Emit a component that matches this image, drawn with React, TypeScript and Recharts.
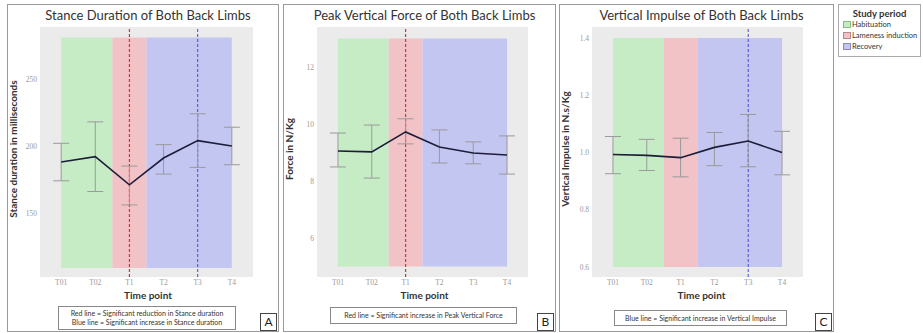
import React from 'react';
import {
  CartesianGrid,
  ErrorBar,
  Line,
  LineChart,
  ReferenceArea,
  ReferenceLine,
  XAxis,
  YAxis,
} from 'recharts';

const timePoints = ['T01', 'T02', 'T1', 'T2', 'T3', 'T4'];

const stanceMean = [188, 192, 171, 191, 204, 200];
const stanceLow = [174, 166, 156, 179, 184, 186];
const stanceHigh = [202, 218, 185, 201, 224, 214];
const stanceTicks = [150, 200, 250];

const forceMean = [9.05, 9.02, 9.72, 9.19, 8.98, 8.91];
const forceLow = [8.49, 8.1, 9.3, 8.63, 8.6, 8.24];
const forceHigh = [9.68, 9.96, 10.18, 9.79, 9.37, 9.58];
const forceTicks = [6, 8, 10, 12];

const impulseMean = [0.993, 0.99, 0.982, 1.018, 1.04, 1.0];
const impulseLow = [0.926, 0.937, 0.915, 0.954, 0.95, 0.922];
const impulseHigh = [1.056, 1.046, 1.05, 1.07, 1.133, 1.074];
const impulseTicks = [0.6, 0.8, 1.0, 1.2, 1.4];

// study periods on the time index scale
const periods = [
  { name: 'Habituation', from: 0, to: 1.5, fill: '#c6ecc6', edge: '#7fbf7f' },
  { name: 'Lameness induction', from: 1.5, to: 2.5, fill: '#f1c3c6', edge: '#b58a8d' },
  { name: 'Recovery', from: 2.5, to: 5, fill: '#c3c6f1', edge: '#8a8dc0' },
];

const RED = '#f02828';
const BLUE = '#4a4ad6';
const FONT = 'Lato, "Open Sans", sans-serif';

const rows = (mean: number[], low: number[], high: number[]) =>
  mean.map((m, i) => ({ x: i, mean: m, err: [m - low[i], high[i] - m] }));

type PanelProps = {
  left: number;
  width: number;
  letter: string;
  title: string;
  yLabel: string;
  note: string[];
  noteBox: { x: number; y: number; w: number; h: number };
  data: { x: number; mean: number; err: number[] }[];
  yDomain: [number, number];
  band: [number, number];
  ticks: number[];
  fmt: (v: number) => string;
  redAt?: number;
  blueAt?: number;
  margin: { left: number; right: number };
};

function Panel(p: PanelProps) {
  const chartW = p.width - 2;
  return (
    <div
      style={{
        position: 'absolute',
        left: p.left,
        top: 4,
        width: p.width - 2,
        height: 326,
        border: '1px solid #9a9a9a',
        fontFamily: FONT,
        color: '#333',
      }}
    >
      <div
        style={{
          position: 'absolute',
          left: 0,
          width: chartW,
          top: 2,
          textAlign: 'center',
          fontSize: 13,
          paddingLeft: 10,
          boxSizing: 'border-box',
        }}
      >
        {p.title}
      </div>
      <div
        style={{
          position: 'absolute',
          left: 5 - 80,
          top: 145 - 7,
          width: 160,
          textAlign: 'center',
          fontSize: 10,
          fontWeight: 700,
          transform: 'rotate(-90deg)',
        }}
      >
        {p.yLabel}
      </div>
      <LineChart
        width={chartW}
        height={326}
        data={p.data}
        margin={{ top: 22, bottom: 40, left: p.margin.left, right: p.margin.right }}
      >
        <CartesianGrid fill="#ebebeb" horizontal={false} vertical={false} />
        {periods.map((b) => (
          <ReferenceArea
            key={b.name}
            x1={b.from}
            x2={b.to}
            y1={p.band[0]}
            y2={p.band[1]}
            fill={b.fill}
            fillOpacity={1}
            stroke="none"
          />
        ))}
        <XAxis
          type="number"
          dataKey="x"
          domain={[-0.62, 5.62]}
          ticks={[0, 1, 2, 3, 4, 5]}
          tickFormatter={(i: number) => timePoints[i]}
          allowDataOverflow
          axisLine={false}
          tickLine={false}
          height={14}
          tickSize={2}
          tickMargin={1}
          tick={{ fill: '#999', fontSize: 7.5, fontFamily: 'Liberation Serif' }}
        />
        <YAxis
          type="number"
          domain={p.yDomain}
          ticks={p.ticks}
          tickFormatter={p.fmt}
          allowDataOverflow
          axisLine={false}
          tickLine={false}
          width={22}
          tickSize={2}
          tickMargin={1}
          tick={{ fill: '#999', fontSize: 7.5, fontFamily: 'Liberation Serif' }}
        />
        {p.redAt !== undefined && (
          <ReferenceLine x={p.redAt} stroke={RED} strokeWidth={1.2} strokeDasharray="3 2" />
        )}
        {p.blueAt !== undefined && (
          <ReferenceLine x={p.blueAt} stroke={BLUE} strokeWidth={1} strokeDasharray="3 2" />
        )}
        <Line
          dataKey="mean"
          stroke="#1d1d3a"
          strokeWidth={1.6}
          dot={false}
          isAnimationActive={false}
        >
          <ErrorBar dataKey="err" direction="y" width={8} stroke="#9a9a9a" strokeWidth={1} />
        </Line>
      </LineChart>
      <div
        style={{
          position: 'absolute',
          left: 0,
          width: chartW,
          top: 284,
          textAlign: 'center',
          fontSize: 10,
          fontWeight: 700,
          paddingLeft: 10,
          boxSizing: 'border-box',
        }}
      >
        Time point
      </div>
      <div
        style={{
          position: 'absolute',
          left: p.noteBox.x - p.left - 1,
          top: p.noteBox.y - 5,
          width: p.noteBox.w,
          height: p.noteBox.h,
          border: '1px solid #888',
          boxSizing: 'border-box',
          display: 'flex',
          flexDirection: 'column',
          justifyContent: 'center',
          alignItems: 'center',
          fontSize: 7,
          lineHeight: '9px',
        }}
      >
        {p.note.map((t) => (
          <div key={t}>{t}</div>
        ))}
      </div>
      <div
        style={{
          position: 'absolute',
          right: 1,
          bottom: 0,
          width: 17,
          height: 18,
          border: '1px solid #444',
          boxSizing: 'border-box',
          textAlign: 'center',
          fontSize: 12,
          lineHeight: '16px',
          color: '#222',
        }}
      >
        {p.letter}
      </div>
    </div>
  );
}

export default function App() {
  return (
    <div
      style={{
        position: 'absolute',
        left: 0,
        top: 0,
        width: 923,
        height: 333,
        background: '#fff',
        overflow: 'hidden',
      }}
    >
      <Panel
        left={7}
        width={272}
        letter="A"
        title="Stance Duration of Both Back Limbs"
        yLabel="Stance duration in milliseconds"
        note={[
          'Red line = Significant reduction in Stance duration',
          'Blue line = Significant increase in Stance duration',
        ]}
        noteBox={{ x: 58, y: 306, w: 178, h: 24 }}
        data={rows(stanceMean, stanceLow, stanceHigh)}
        yDomain={[102.2, 288.8]}
        band={[109, 281]}
        ticks={stanceTicks}
        fmt={(v) => String(v)}
        redAt={2}
        blueAt={4}
        margin={{ left: 10, right: 25 }}
      />
      <Panel
        left={283}
        width={273}
        letter="B"
        title="Peak Vertical Force of Both Back Limbs"
        yLabel="Force in N/Kg"
        note={['Red line = Significant increase in Peak Vertical Force']}
        noteBox={{ x: 330, y: 307, w: 187, h: 17 }}
        data={rows(forceMean, forceLow, forceHigh)}
        yDomain={[4.63, 13.4]}
        band={[5, 13]}
        ticks={forceTicks}
        fmt={(v) => String(v)}
        redAt={2}
        margin={{ left: 11, right: 27 }}
      />
      <Panel
        left={559}
        width={275}
        letter="C"
        title="Vertical Impulse of Both Back Limbs"
        yLabel="Vertical Impulse in N.s/Kg"
        note={['Blue line = Significant increase in Vertical Impulse']}
        noteBox={{ x: 614, y: 310, w: 173, h: 16 }}
        data={rows(impulseMean, impulseLow, impulseHigh)}
        yDomain={[0.565, 1.4386]}
        band={[0.6, 1.4]}
        ticks={impulseTicks}
        fmt={(v) => v.toFixed(1)}
        blueAt={4}
        margin={{ left: 10, right: 30 }}
      />
      <div
        style={{
          position: 'absolute',
          left: 838,
          top: 4,
          width: 83,
          height: 53,
          border: '1px solid #aaa',
          boxSizing: 'border-box',
          fontFamily: FONT,
          color: '#333',
        }}
      >
        <div style={{ textAlign: 'center', fontSize: 9.5, fontWeight: 700, marginTop: 3 }}>
          Study period
        </div>
        {periods.map((b) => (
          <div
            key={b.name}
            style={{ display: 'flex', alignItems: 'center', fontSize: 7.5, height: 11, marginLeft: 4 }}
          >
            <span
              style={{
                display: 'inline-block',
                width: 8,
                height: 7,
                background: b.fill,
                border: `1px solid ${b.edge}`,
                boxSizing: 'border-box',
                marginRight: 1,
              }}
            />
            {b.name}
          </div>
        ))}
      </div>
    </div>
  );
}
